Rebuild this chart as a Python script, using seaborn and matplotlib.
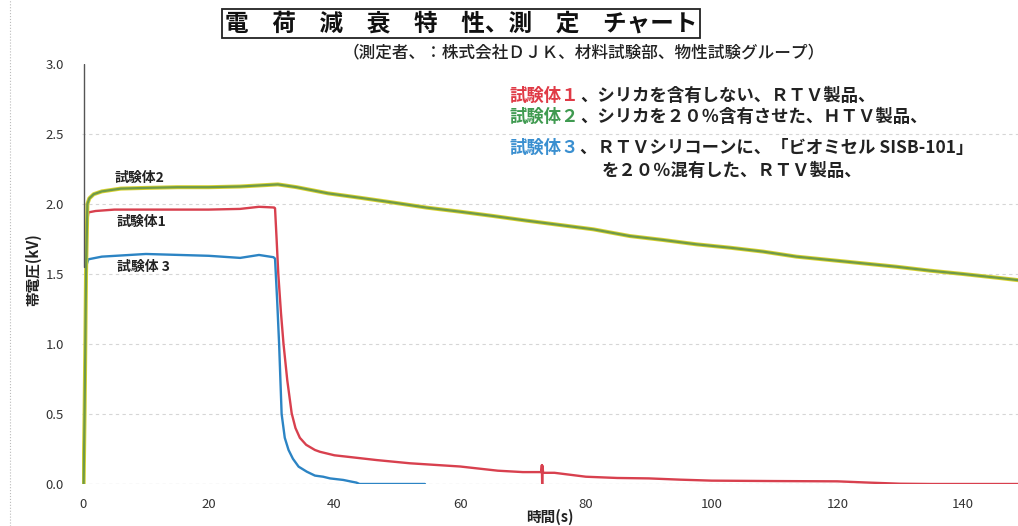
import numpy as np
import pandas as pd
import seaborn as sns
import matplotlib.pyplot as plt
from matplotlib.lines import Line2D

# 時間 (s) と 帯電圧 (kV) — 画像から読み取った値
t_sample1 = [0.1, 0.25, 0.37, 0.48, 0.62, 0.85, 2, 5, 10, 15, 20, 25, 28, 30.4, 30.55,
             30.8, 31.07, 31.5, 31.9, 32.5, 33.2, 33.8, 34.5, 35.5, 36.9, 37.7, 40, 42,
             46.7, 52, 60, 66, 70, 72.9, 73.0, 73.05, 73.1, 73.2, 75, 80, 85, 90, 95, 100,
             110, 120, 125, 130, 135, 149]
v_sample1 = [0.06, 0.5, 1.0, 1.5, 1.85, 1.94, 1.95, 1.96, 1.96, 1.96, 1.96, 1.965, 1.98,
             1.975, 1.97, 1.75, 1.5, 1.22, 1.0, 0.74, 0.505, 0.40, 0.33, 0.28, 0.243, 0.23,
             0.205, 0.195, 0.171, 0.148, 0.125, 0.095, 0.085, 0.085, 0.135, 0.0, 0.13,
             0.08, 0.08, 0.052, 0.043, 0.04, 0.031, 0.024, 0.021, 0.019, 0.01, 0.002, 0.0, 0.0]

t_sample2 = [0.1, 0.25, 0.37, 0.48, 0.7, 1.0, 1.7, 3, 6, 10, 15, 20, 25, 29, 31, 34, 39,
             44, 49.4, 54.7, 60, 65.3, 70.6, 75.9, 81.2, 87, 92.3, 97.6, 102.9, 108.2,
             113.5, 118.8, 124.1, 129.4, 134.7, 140, 145.3, 149]
v_sample2 = [0.0, 0.5, 1.0, 1.5, 2.0, 2.04, 2.07, 2.09, 2.11, 2.115, 2.12, 2.12, 2.125,
             2.135, 2.14, 2.12, 2.076, 2.045, 2.01, 1.974, 1.945, 1.914, 1.881, 1.85,
             1.819, 1.771, 1.743, 1.712, 1.688, 1.66, 1.624, 1.60, 1.576, 1.552, 1.524,
             1.50, 1.474, 1.455]

t_sample3 = [0.1, 0.25, 0.37, 0.48, 0.6, 0.85, 3, 10, 20, 25, 28, 30.3, 30.55, 30.9, 31.2,
             31.6, 32.1, 32.7, 33.4, 34.3, 35.6, 36.9, 38.2, 39.3, 41.4, 42.7, 43.5, 44, 54.4]
v_sample3 = [0.05, 0.5, 1.0, 1.45, 1.57, 1.605, 1.624, 1.643, 1.63, 1.615, 1.636, 1.62,
             1.61, 1.3, 1.0, 0.5, 0.33, 0.243, 0.18, 0.124, 0.088, 0.06, 0.052, 0.04,
             0.029, 0.017, 0.01, 0.0, 0.0]

x_ticks = [0, 20, 40, 60, 80, 100, 120, 140]
y_ticks = [0.0, 0.5, 1.0, 1.5, 2.0, 2.5, 3.0]

sns.set_theme(style="white")
plt.rcParams['font.family'] = ['Noto Sans CJK JP', 'DejaVu Sans']

W, H = 1018, 526
fig = plt.figure(figsize=(W / 100, H / 100), dpi=100)
ppu = 880 / 140          # pixels per second
x0, x1 = -0.2, 148.7
ax = fig.add_axes([(83 + x0 * ppu) / W, 42 / H, (x1 - x0) * ppu / W, 420 / H])

red, green, blue = "#d8404e", "#6f9a48", "#2c84c4"

sns.lineplot(x=t_sample1, y=v_sample1, ax=ax, color=red, lw=1.7, estimator=None, sort=False)
sns.lineplot(x=t_sample3, y=v_sample3, ax=ax, color=blue, lw=1.7, estimator=None, sort=False)
# 試験体2 は黄色の縁取り付き
sns.lineplot(x=t_sample2, y=v_sample2, ax=ax, color="#d8d230", lw=2.9, estimator=None, sort=False)
sns.lineplot(x=t_sample2, y=v_sample2, ax=ax, color=green, lw=1.6, estimator=None, sort=False)

ax.set_xlim(x0, x1)
ax.set_ylim(0, 3.0)
ax.set_xticks(x_ticks)
ax.set_yticks(y_ticks)
ax.set_yticklabels([f"{v:.1f}" for v in y_ticks])
for s in ax.spines.values():
    s.set_visible(False)

ax.yaxis.grid(True, linestyle=(0, (3, 3)), color="#d6d6d6", lw=0.8)
ax.get_ygridlines()[-1].set_visible(False)
ax.get_ygridlines()[0].set_color("#a0a0a0")
ax.axvline(0.15, ymin=1.55 / 3, ymax=1, color="#555555", lw=1.0)

ax.tick_params(axis="x", direction="inout", length=6, width=0.8, color="#888888",
               pad=7, labelsize=9.5, labelcolor="#333333")
ax.tick_params(axis="y", length=0, pad=13, labelsize=9.5, labelcolor="#333333")

ax.set_xlabel("時間(s)", fontsize=10.5, weight="bold", color="#222222")
ax.xaxis.set_label_coords(0.5, -0.06)
ax.set_ylabel("帯電圧(kV)", fontsize=10.5, weight="bold", color="#222222")
ax.yaxis.set_label_coords(-0.043, 0.51)

# 曲線ラベル
lab_kw = dict(fontsize=10, weight="bold", color="#222222", ha="left", va="center")
ax.text(5.1, 2.186, "試験体2", **lab_kw)
ax.text(5.4, 1.871, "試験体1", **lab_kw)
ax.text(5.4, 1.55, "試験体 3", **lab_kw)

def px(x, y):
    return x / W, 1 - y / H

fig.text(*px(461, 23.5), "電　荷　減　衰　特　性、測　定　チャート", ha="center", va="center",
         fontsize=17, weight="bold", color="#111111",
         bbox=dict(boxstyle="square,pad=0.12", fc="white", ec="#222222", lw=1.3))
fig.text(*px(584, 52), "（測定者、：株式会社ＤＪＫ、材料試験部、物性試験グループ）",
         ha="center", va="center", fontsize=12, weight="medium", color="#222222")

leg_kw = dict(ha="left", va="center", fontsize=12.5, weight="bold")
fig.text(*px(510, 96), "試験体１", color="#e03a46", **leg_kw)
fig.text(*px(580, 96), "、シリカを含有しない、ＲＴＶ製品、", color="#222222", **leg_kw)
fig.text(*px(510, 117), "試験体２", color="#3f9a50", **leg_kw)
fig.text(*px(580, 117), "、シリカを２０％含有させた、ＨＴＶ製品、", color="#222222", **leg_kw)
fig.text(*px(510, 148), "試験体３", color="#3a8fd0", **leg_kw)
fig.text(*px(580, 148), "、ＲＴＶシリコーンに、「ビオミセル SISB-101」", color="#222222", **leg_kw)
fig.text(*px(602, 171), "を２０％混有した、ＲＴＶ製品、", color="#222222", **leg_kw)

# スキャン枠の点線
fig.add_artist(Line2D([10 / W, 10 / W], [0, 1], color="#bbbbbb", lw=0.8, ls=":"))

fig.savefig("out.png", dpi=100)
